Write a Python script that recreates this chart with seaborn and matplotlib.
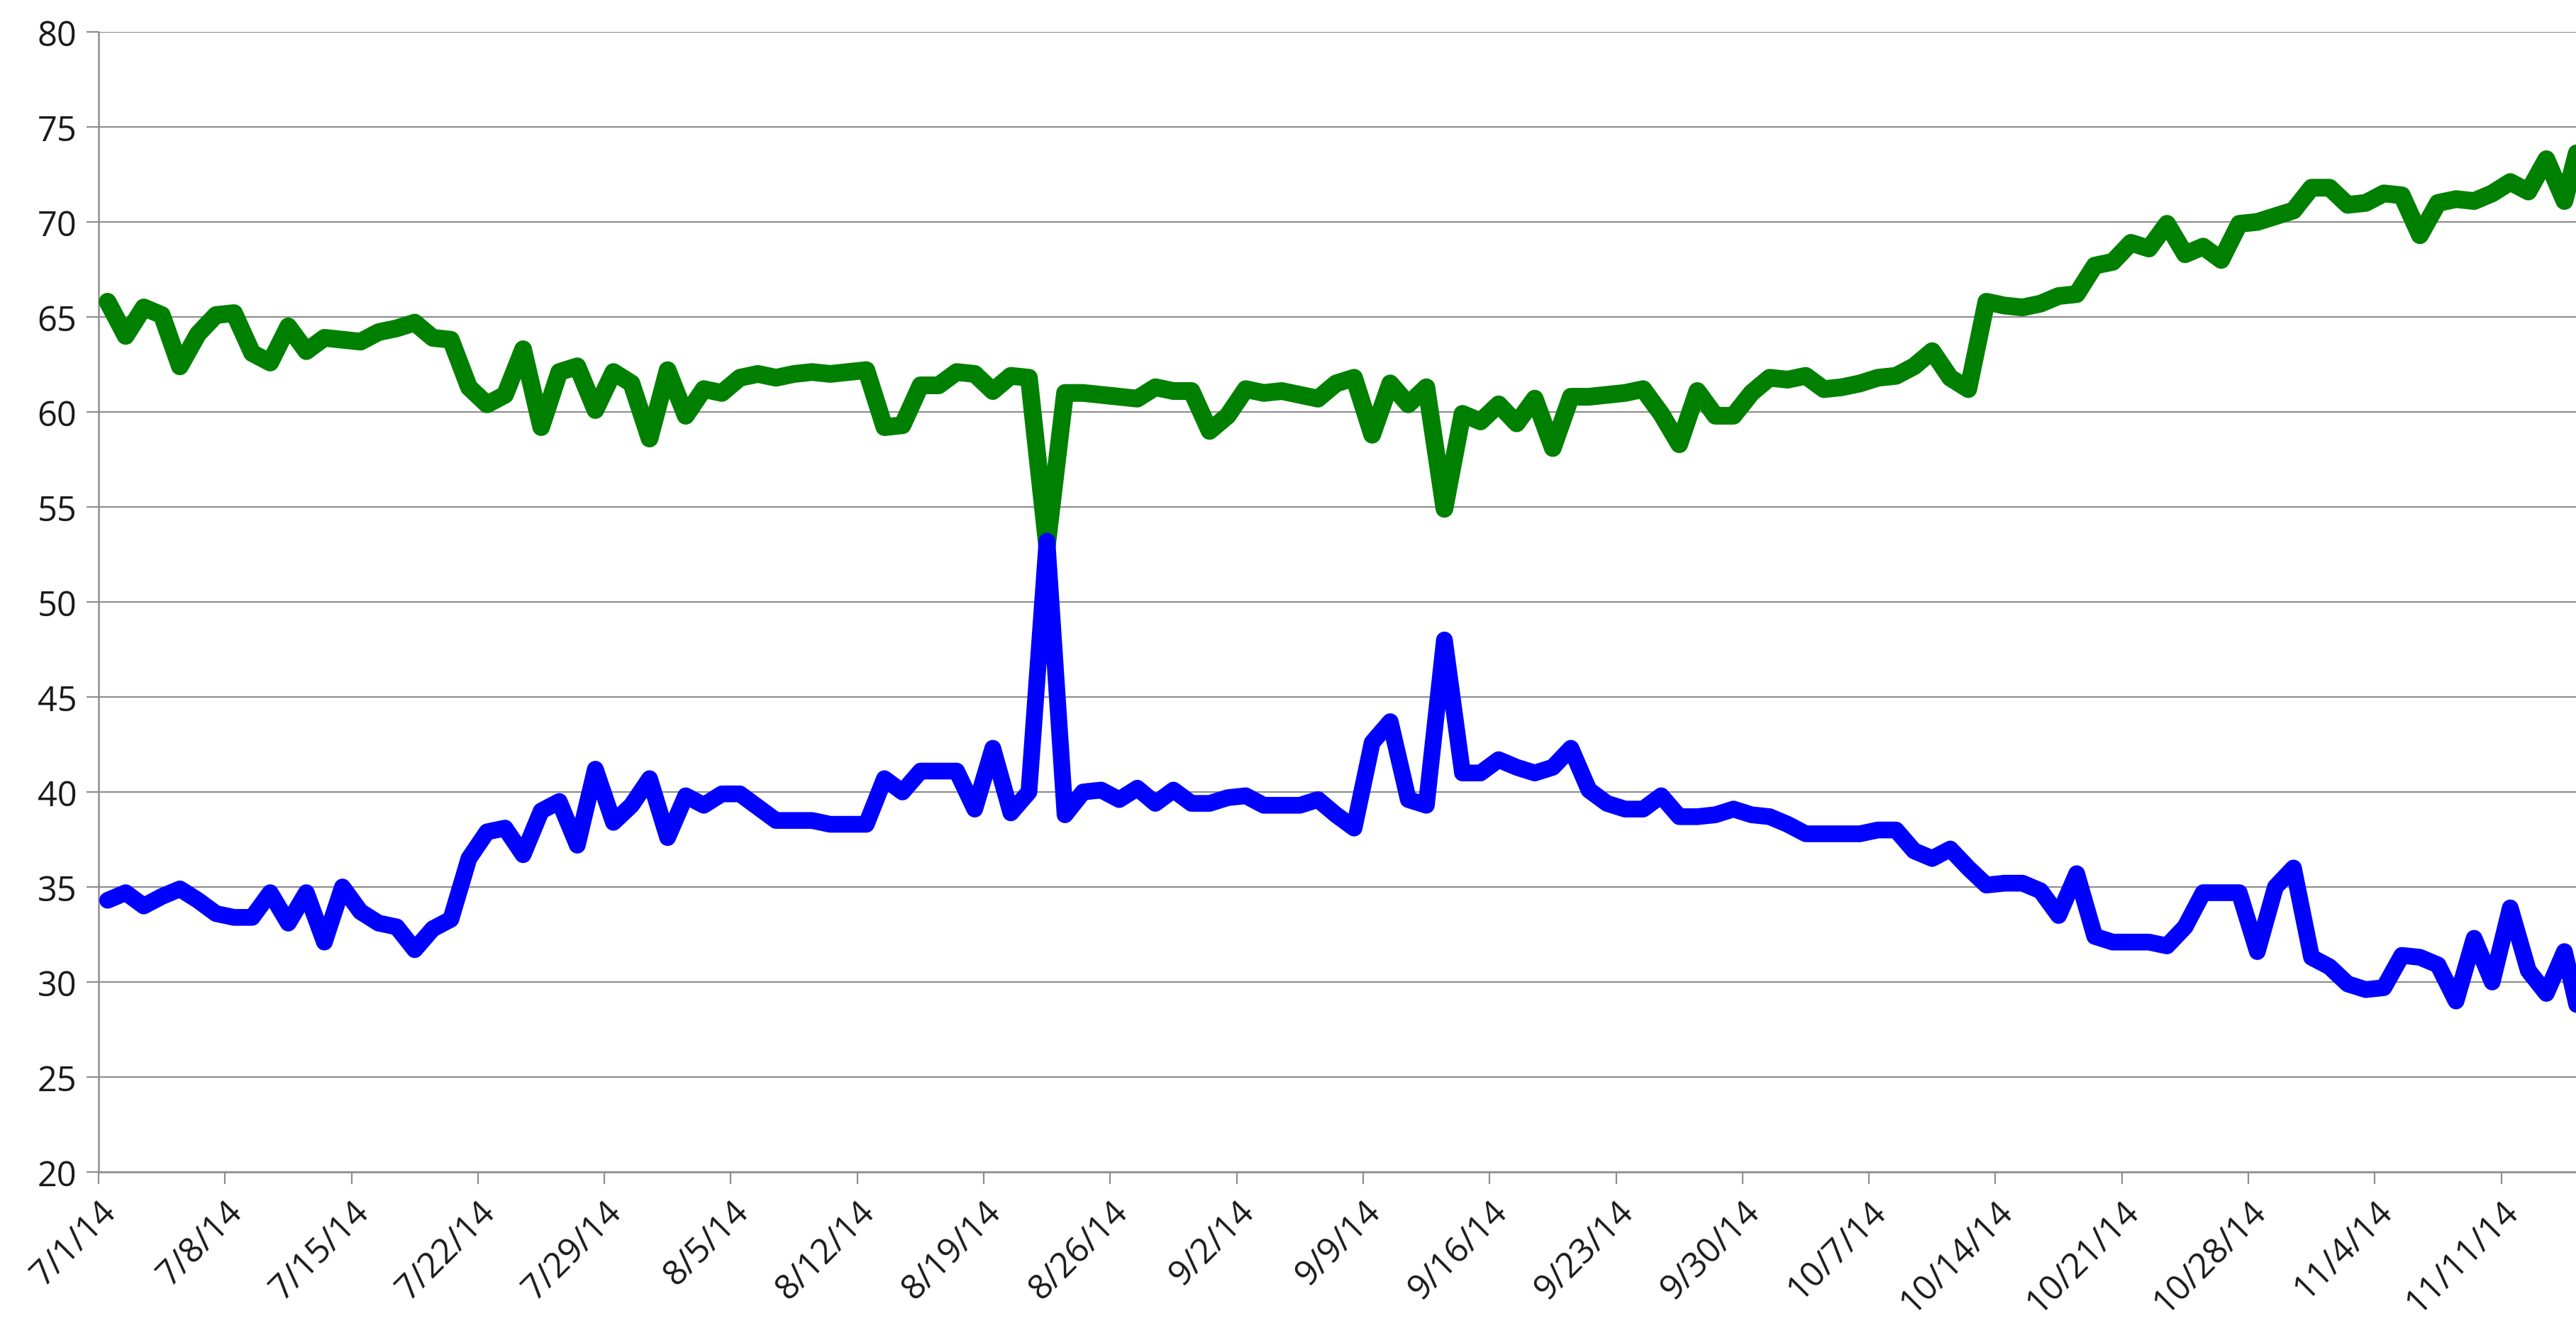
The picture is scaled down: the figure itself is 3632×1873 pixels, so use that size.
import matplotlib
matplotlib.use("Agg")
import matplotlib.pyplot as plt
import seaborn as sns
import pandas as pd
import numpy as np

# ---- data ----
start_date = "2014-07-01"
n_days = 138

green_values = [
    65.8, 64.0, 65.5, 65.1, 62.4, 64.1, 65.1, 65.2, 63.1, 62.6,
    64.5, 63.2, 63.9, 63.8, 63.7, 64.2, 64.4, 64.7, 63.9, 63.8,
    61.3, 60.4, 60.9, 63.3, 59.2, 62.1, 62.4, 60.1, 62.1, 61.5,
    58.6, 62.2, 59.8, 61.2, 61.0, 61.8, 62.0, 61.8, 62.0, 62.1,
    62.0, 62.1, 62.2, 59.2, 59.3, 61.4, 61.4, 62.1, 62.0, 61.1,
    61.9, 61.8, 53.0, 61.0, 61.0, 60.9, 60.8, 60.7, 61.3, 61.1,
    61.1, 59.0, 59.8, 61.2, 61.0, 61.1, 60.9, 60.7, 61.5, 61.8,
    58.8, 61.5, 60.4, 61.3, 54.9, 59.9, 59.5, 60.4, 59.4, 60.7,
    58.1, 60.8, 60.8, 60.9, 61.0, 61.2, 59.9, 58.3, 61.1, 59.8,
    59.8, 61.0, 61.8, 61.7, 61.9, 61.2, 61.3, 61.5, 61.8, 61.9,
    62.4, 63.2, 61.8, 61.2, 65.8, 65.6, 65.5, 65.7, 66.1, 66.2,
    67.7, 67.9, 68.9, 68.6, 69.9, 68.3, 68.7, 68.0, 69.9, 70.0,
    70.3, 70.6, 71.8, 71.8, 70.9, 71.0, 71.5, 71.4, 69.3, 71.0,
    71.2, 71.1, 71.5, 72.1, 71.6, 73.3, 71.1, 74.8,
]

blue_values = [
    34.3, 34.7, 34.0, 34.5, 34.9, 34.3, 33.6, 33.4, 33.4, 34.7,
    33.1, 34.7, 32.1, 35.0, 33.7, 33.1, 32.9, 31.7, 32.8, 33.3,
    36.5, 37.9, 38.1, 36.7, 39.0, 39.5, 37.2, 41.2, 38.4, 39.3,
    40.7, 37.6, 39.8, 39.3, 39.9, 39.9, 39.2, 38.5, 38.5, 38.5,
    38.3, 38.3, 38.3, 40.7, 40.0, 41.1, 41.1, 41.1, 39.1, 42.3,
    38.9, 40.0, 53.2, 38.8, 40.0, 40.1, 39.6, 40.2, 39.4, 40.1,
    39.4, 39.4, 39.7, 39.8, 39.3, 39.3, 39.3, 39.6, 38.8, 38.1,
    42.6, 43.7, 39.6, 39.3, 48.0, 41.0, 41.0, 41.7, 41.3, 41.0,
    41.3, 42.3, 40.1, 39.4, 39.1, 39.1, 39.8, 38.7, 38.7, 38.8,
    39.1, 38.8, 38.7, 38.3, 37.8, 37.8, 37.8, 37.8, 38.0, 38.0,
    36.9, 36.5, 37.0, 36.0, 35.1, 35.2, 35.2, 34.8, 33.5, 35.7,
    32.4, 32.1, 32.1, 32.1, 31.9, 32.9, 34.7, 34.7, 34.7, 31.6,
    35.0, 36.0, 31.3, 30.8, 29.9, 29.6, 29.7, 31.4, 31.3, 30.9,
    29.0, 32.3, 30.0, 33.9, 30.6, 29.4, 31.6, 27.5,
]

tick_dates = ["2014-07-01", "2014-07-08", "2014-07-15", "2014-07-22", "2014-07-29",
              "2014-08-05", "2014-08-12", "2014-08-19", "2014-08-26", "2014-09-02",
              "2014-09-09", "2014-09-16", "2014-09-23", "2014-09-30", "2014-10-07",
              "2014-10-14", "2014-10-21", "2014-10-28", "2014-11-04", "2014-11-11"]
tick_labels = ["7/1/14", "7/8/14", "7/15/14", "7/22/14", "7/29/14", "8/5/14",
               "8/12/14", "8/19/14", "8/26/14", "9/2/14", "9/9/14", "9/16/14",
               "9/23/14", "9/30/14", "10/7/14", "10/14/14", "10/21/14",
               "10/28/14", "11/4/14", "11/11/14"]
y_ticks = [20, 25, 30, 35, 40, 45, 50, 55, 60, 65, 70, 75, 80]

# ---- build frame ----
dates = pd.date_range(start_date, periods=n_days, freq="D")
df = pd.DataFrame({
    "date": dates + pd.Timedelta(hours=12),   # points centred in each day slot
    "green": green_values,
    "blue": blue_values,
})

sns.set_theme(style="white")
plt.rcParams["font.family"] = ["Open Sans", "DejaVu Sans"]

W, H, DPI = 3632, 1874, 100
fig = plt.figure(figsize=(W / DPI, H / DPI), dpi=DPI)
fig.patch.set_facecolor("white")
ax = fig.add_axes([139 / W, 220 / H, (W - 139) / W, (1654 - 46) / H])
ax.set_facecolor("white")

grid_col = "#8e8e8e"
ax.set_ylim(20, 80)
ax.set_yticks(y_ticks)
ax.yaxis.grid(True, color=grid_col, linewidth=1.6)
ax.set_axisbelow(True)

sns.lineplot(data=df, x="date", y="green", ax=ax, color="#008000",
             linewidth=18, solid_joinstyle="round", solid_capstyle="round",
             zorder=3)
sns.lineplot(data=df, x="date", y="blue", ax=ax, color="#0000ff",
             linewidth=17, solid_joinstyle="round", solid_capstyle="round",
             zorder=4)

x0 = pd.Timestamp(start_date)
ax.set_xlim(x0, x0 + pd.Timedelta(days=137.14))
ax.set_xticks(pd.to_datetime(tick_dates))
ax.set_xticklabels(tick_labels, rotation=45, ha="right", va="top",
                   rotation_mode="anchor")

ax.set_xlabel("")
ax.set_ylabel("")
for s in ["top", "right"]:
    ax.spines[s].set_visible(False)
for s in ["left", "bottom"]:
    ax.spines[s].set_color(grid_col)
    ax.spines[s].set_linewidth(1.8)

ax.tick_params(axis="y", which="major", length=12, width=1.6, color=grid_col,
               labelsize=35, labelcolor="#1a1a1a", pad=10, left=True)
ax.tick_params(axis="x", which="major", length=12, width=1.6, color=grid_col,
               labelsize=35, labelcolor="#1a1a1a", pad=10, bottom=True)

fig.savefig("out.png", dpi=DPI, facecolor="white")
